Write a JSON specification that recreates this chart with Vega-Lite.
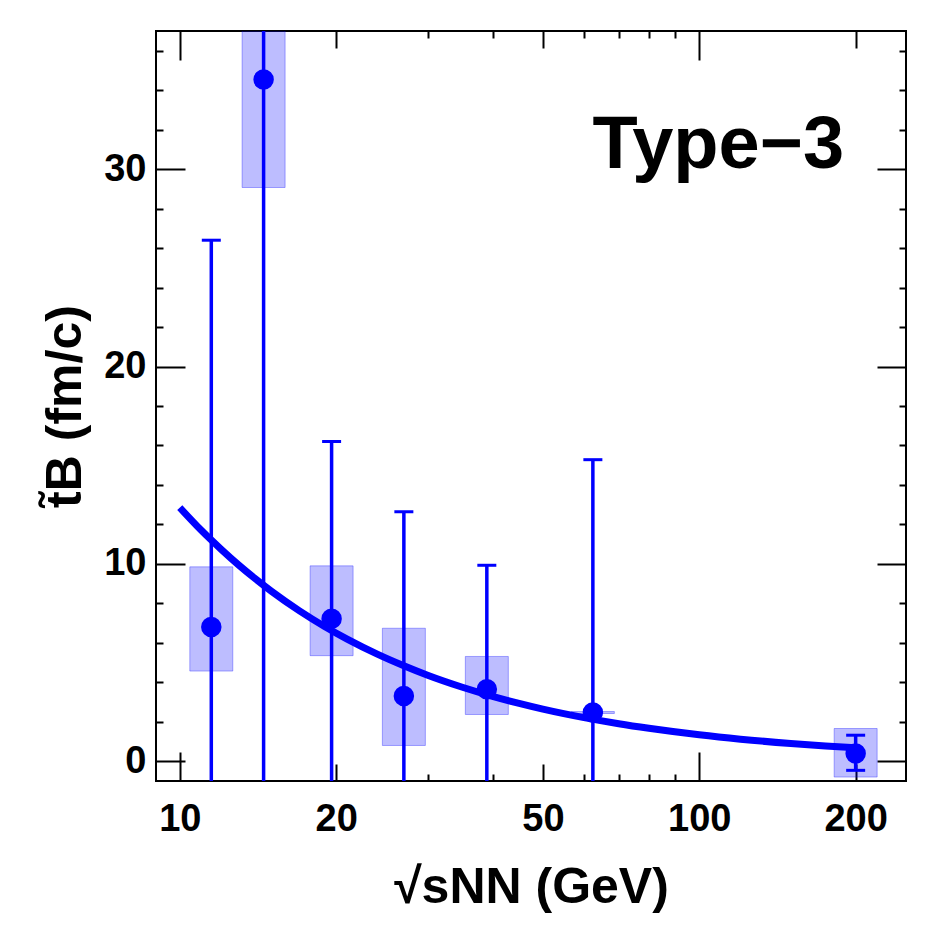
{
  "$schema": "https://vega.github.io/schema/vega-lite/v6.json",
  "width": 750,
  "height": 750,
  "autosize": {"type": "none"},
  "padding": {"left": 156, "top": 31, "right": 32, "bottom": 157},
  "background": "white",
  "config": {
    "view": {"stroke": "black", "strokeWidth": 2},
    "font": "Liberation Sans",
    "axis": {
      "domain": false,
      "grid": false,
      "tickColor": "black",
      "tickWidth": 2,
      "labelFont": "Liberation Sans",
      "labelFontSize": 38,
      "labelFontWeight": "bold",
      "labelColor": "black",
      "labelFlush": false,
      "labelOverlap": false,
      "labelBound": false,
      "titleFont": "Liberation Sans",
      "titleFontSize": 50,
      "titleFontWeight": "bold",
      "titleColor": "black"
    }
  },
  "datasets": {
    "points": [
      {"energy": 11.5, "tB": 6.8, "statLo": -12.8, "statHi": 26.4, "sysLo": 4.57, "sysHi": 9.85},
      {"energy": 14.5, "tB": 34.54, "statLo": -5.5, "statHi": 74.5, "sysLo": 29.07, "sysHi": 45.0},
      {"energy": 19.6, "tB": 7.22, "statLo": -1.76, "statHi": 16.2, "sysLo": 5.35, "sysHi": 9.9},
      {"energy": 27.0, "tB": 3.31, "statLo": -6.02, "statHi": 12.64, "sysLo": 0.8, "sysHi": 6.74},
      {"energy": 39.0, "tB": 3.65, "statLo": -2.63, "statHi": 9.93, "sysLo": 2.37, "sysHi": 5.31},
      {"energy": 62.4, "tB": 2.47, "statLo": -10.34, "statHi": 15.28, "sysLo": 2.42, "sysHi": 2.52},
      {"energy": 200.0, "tB": 0.39, "statLo": -0.46, "statHi": 1.32, "sysLo": -0.8, "sysHi": 1.66}
    ],
    "fit": [
      {"energy": 10, "tB": 12.85},
      {"energy": 11, "tB": 11.7},
      {"energy": 12, "tB": 10.75},
      {"energy": 13, "tB": 9.93},
      {"energy": 14, "tB": 9.23},
      {"energy": 15, "tB": 8.62},
      {"energy": 17, "tB": 7.62},
      {"energy": 19, "tB": 6.83},
      {"energy": 21, "tB": 6.19},
      {"energy": 24, "tB": 5.43},
      {"energy": 27, "tB": 4.84},
      {"energy": 30, "tB": 4.36},
      {"energy": 35, "tB": 3.75},
      {"energy": 40, "tB": 3.29},
      {"energy": 45, "tB": 2.93},
      {"energy": 50, "tB": 2.64},
      {"energy": 60, "tB": 2.21},
      {"energy": 70, "tB": 1.9},
      {"energy": 80, "tB": 1.67},
      {"energy": 100, "tB": 1.34},
      {"energy": 120, "tB": 1.12},
      {"energy": 150, "tB": 0.9},
      {"energy": 175, "tB": 0.77},
      {"energy": 200, "tB": 0.68}
    ],
    "tag": [
      {"energy": 190, "tB": 30.06, "label": "Type−3"}
    ]
  },
  "layer": [
    {
      "data": {"name": "points"},
      "mark": {"type": "point", "opacity": 0},
      "encoding": {
        "x": {"field": "energy", "type": "quantitative",
              "scale": {"type": "log", "domain": [9, 250], "nice": false, "padding": 0},
              "axis": {"orient": "bottom", "values": [10, 20, 50, 100, 200], "format": "d", "ticks": false, "tickSize": 0, "labelPadding": 19, "title": "√sNN (GeV)", "titlePadding": 24}},
        "y": {"field": "tB", "type": "quantitative",
              "scale": {"domain": [-1, 37], "nice": false, "zero": false, "padding": 0},
              "axis": {"orient": "left", "values": [0, 10, 20, 30], "format": "d", "ticks": false, "tickSize": 0, "labelPadding": 10, "title": "t̃B (fm/c)", "titlePadding": 13}}
      }
    },
    {
      "data": {"name": "points"},
      "mark": {"type": "point", "opacity": 0},
      "encoding": {
        "x": {"field": "energy", "type": "quantitative", "axis": {"orient": "bottom", "values": [10, 100], "labels": false, "tickSize": -29, "title": null}},
        "y": {"field": "tB", "type": "quantitative", "axis": {"orient": "left", "values": [0, 10, 20, 30], "labels": false, "tickSize": -29, "title": null}}
      }
    },
    {
      "data": {"name": "points"},
      "mark": {"type": "point", "opacity": 0},
      "encoding": {
        "x": {"field": "energy", "type": "quantitative", "axis": {"orient": "bottom", "values": [20, 50, 200], "labels": false, "tickSize": -17, "title": null}},
        "y": {"field": "tB", "type": "quantitative", "axis": {"orient": "left", "values": [2, 4, 6, 8, 12, 14, 16, 18, 22, 24, 26, 28, 32, 34, 36], "labels": false, "tickSize": -7, "title": null}}
      }
    },
    {
      "data": {"name": "points"},
      "mark": {"type": "point", "opacity": 0},
      "encoding": {
        "x": {"field": "energy", "type": "quantitative", "axis": {"orient": "bottom", "values": [30, 40, 60, 70, 80, 90], "labels": false, "tickSize": -7, "title": null}},
        "y": {"field": "tB", "type": "quantitative", "axis": {"orient": "right", "values": [0, 10, 20, 30], "labels": false, "tickSize": -29, "title": null}}
      }
    },
    {
      "data": {"name": "points"},
      "mark": {"type": "point", "opacity": 0},
      "encoding": {
        "x": {"field": "energy", "type": "quantitative", "axis": {"orient": "top", "values": [10, 100], "labels": false, "tickSize": -29, "title": null}},
        "y": {"field": "tB", "type": "quantitative", "axis": {"orient": "right", "values": [2, 4, 6, 8, 12, 14, 16, 18, 22, 24, 26, 28, 32, 34, 36], "labels": false, "tickSize": -7, "title": null}}
      }
    },
    {
      "data": {"name": "points"},
      "mark": {"type": "point", "opacity": 0},
      "encoding": {
        "x": {"field": "energy", "type": "quantitative", "axis": {"orient": "top", "values": [20, 50, 200], "labels": false, "tickSize": -17, "title": null}},
        "y": {"field": "tB", "type": "quantitative", "axis": null}
      }
    },
    {
      "data": {"name": "points"},
      "mark": {"type": "point", "opacity": 0},
      "encoding": {
        "x": {"field": "energy", "type": "quantitative", "axis": {"orient": "top", "values": [30, 40, 60, 70, 80, 90], "labels": false, "tickSize": -7, "title": null}},
        "y": {"field": "tB", "type": "quantitative", "axis": null}
      }
    },
    {
      "data": {"name": "points"},
      "mark": {"type": "bar", "width": 43, "fill": "#0000ff", "fillOpacity": 0.26, "stroke": "#0000ff", "strokeOpacity": 0.32, "strokeWidth": 1, "clip": true},
      "encoding": {
        "x": {"field": "energy", "type": "quantitative", "axis": null},
        "y": {"field": "sysLo", "type": "quantitative", "axis": null},
        "y2": {"field": "sysHi"}
      }
    },
    {
      "data": {"name": "points"},
      "mark": {"type": "rule", "color": "#0000ff", "strokeWidth": 3.5, "clip": true},
      "encoding": {
        "x": {"field": "energy", "type": "quantitative", "axis": null},
        "y": {"field": "statLo", "type": "quantitative", "axis": null},
        "y2": {"field": "statHi"}
      }
    },
    {
      "data": {"name": "points"},
      "mark": {"type": "tick", "orient": "horizontal", "color": "#0000ff", "size": 19, "thickness": 3, "opacity": 1, "clip": true},
      "encoding": {
        "x": {"field": "energy", "type": "quantitative", "axis": null},
        "y": {"field": "statHi", "type": "quantitative", "axis": null}
      }
    },
    {
      "data": {"name": "points"},
      "mark": {"type": "tick", "orient": "horizontal", "color": "#0000ff", "size": 19, "thickness": 3, "opacity": 1, "clip": true},
      "encoding": {
        "x": {"field": "energy", "type": "quantitative", "axis": null},
        "y": {"field": "statLo", "type": "quantitative", "axis": null}
      }
    },
    {
      "data": {"name": "fit"},
      "mark": {"type": "line", "color": "#0000ff", "strokeWidth": 7, "interpolate": "monotone", "clip": true},
      "encoding": {
        "x": {"field": "energy", "type": "quantitative", "axis": null},
        "y": {"field": "tB", "type": "quantitative", "axis": null}
      }
    },
    {
      "data": {"name": "points"},
      "mark": {"type": "circle", "color": "#0000ff", "size": 420, "opacity": 1, "clip": true},
      "encoding": {
        "x": {"field": "energy", "type": "quantitative", "axis": null},
        "y": {"field": "tB", "type": "quantitative", "axis": null}
      }
    },
    {
      "data": {"name": "tag"},
      "mark": {"type": "text", "align": "right", "baseline": "alphabetic", "font": "Liberation Sans", "fontSize": 74, "fontWeight": "bold", "color": "black"},
      "encoding": {
        "x": {"field": "energy", "type": "quantitative", "axis": null},
        "y": {"field": "tB", "type": "quantitative", "axis": null},
        "text": {"field": "label"}
      }
    }
  ],
  "resolve": {"axis": {"x": "independent", "y": "independent"}}
}
